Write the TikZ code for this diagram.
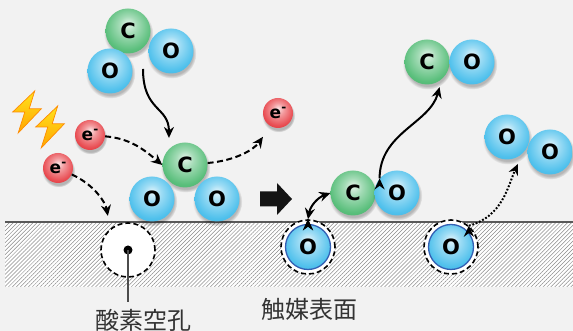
\documentclass[tikz,border=0pt]{standalone}
\usepackage{fontspec}
\setsansfont{DejaVu Sans}
\newfontfamily\jpfont{Noto Sans CJK JP}
\usetikzlibrary{arrows.meta}
\usetikzlibrary{shadows}
\usetikzlibrary{patterns.meta}
\definecolor{bg}{RGB}{242,242,242}
\definecolor{cgreen}{RGB}{88,190,122}
\definecolor{oblue}{RGB}{78,192,236}
\definecolor{ered}{RGB}{232,72,78}
\definecolor{rimblue}{RGB}{52,96,180}
\definecolor{bolty}{RGB}{255,226,30}
\definecolor{bolto}{RGB}{255,165,0}
\colorlet{atomcol}{oblue}
\pgfdeclareradialshading[atomcol]{glossy}{\pgfpoint{0bp}{8bp}}{%
  color(0bp)=(atomcol!15!white); color(10bp)=(atomcol!55!white);
  color(26bp)=(atomcol); color(44bp)=(atomcol!88!black);
  color(52bp)=(atomcol!75!black)}

\begin{document}
\begin{tikzpicture}[x=1pt,y=1pt,>={Stealth[length=11pt,width=10pt]},
    atom/.style={circle,minimum size=45pt,inner sep=0pt,shading=glossy,
      font=\sffamily\bfseries\fontsize{21}{21}\selectfont},
    lift/.style={circular drop shadow={shadow xshift=.5pt,shadow yshift=-2.5pt,
      opacity=.25,fill=black}},
    carbon/.style={atom,lift,/utils/exec=\colorlet{atomcol}{cgreen}},
    oxygen/.style={atom,lift,/utils/exec=\colorlet{atomcol}{oblue}},
    elec/.style={atom,lift,minimum size=30pt,
      font=\sffamily\bfseries\fontsize{17}{17}\selectfont,
      /utils/exec=\colorlet{atomcol}{ered}},
    bound/.style={atom,draw=rimblue,line width=1.3pt,
      /utils/exec=\colorlet{atomcol}{oblue}},
    site/.style={circle,draw,fill=white,dash pattern=on 5pt off 3pt,
      line width=1.6pt,minimum size=54pt,inner sep=0pt},
    caption/.style={font=\jpfont\fontsize{24}{24}\selectfont,
      text=black!80,inner sep=0pt,anchor=north},
    bolt/.style={draw=bolto!85!red,line width=.7pt,top color=bolty,
      bottom color=bolto,line join=miter}]
    \path[use as bounding box,fill=bg] (0,0) rectangle (573,331);

    \path[preaction={fill=white},
          pattern={Lines[angle=45,distance=2.8pt,line width=.5pt]},
          pattern color=black!45] (5,44) rectangle (573,109);
    \draw[line width=2.2pt,black!65] (5,109) -- (573,109);

    \node[site] (vac) at (128,81) {};
    \fill (vac.center) circle (4.5pt);
    \node[site] (s1) at (308,84) {};
    \node[bound] (s1o) at (s1) {O};
    \node[site] (s2) at (451,84) {};
    \node[bound] (s2o) at (s2) {O};

    \node[carbon] (c1) at (128,300) {C};
    \node[oxygen] (o1) at (110,260) {O};
    \node[oxygen] (o2) at (171,280) {O};
    \node[carbon] (c2) at (185,166) {C};
    \node[oxygen] (o3) at (152,132) {O};
    \node[oxygen] (o4) at (217,132) {O};
    \node[carbon] (c3) at (353,138) {C};
    \node[oxygen] (o5) at (397,138) {O};
    \node[carbon] (c4) at (427,269) {C};
    \node[oxygen] (o6) at (472,269) {O};
    \node[oxygen] (o7) at (507,194) {O};
    \node[oxygen] (o8) at (550,179) {O};

    \node[elec] (e1) at (90,196) {e\raisebox{.45em}{\fontsize{12}{12}\selectfont -}};
    \node[elec] (e2) at (58,163) {e\raisebox{.45em}{\fontsize{12}{12}\selectfont -}};
    \node[elec] (e3) at (278,218) {e\raisebox{.45em}{\fontsize{12}{12}\selectfont -}};

    \foreach \x/\y in {27/219,50/204}
      \draw[bolt,shift={(\x,\y)},xscale=1.1,yscale=1.05]
        (7,20) -- (-13,0) -- (-2,0) -- (-8,-20) -- (13,3) -- (2,3) -- cycle;

    \fill[black!92] (260,124.5) -- (277,124.5) -- (277,116) -- (292,132)
      -- (277,148) -- (277,139.5) -- (260,139.5) -- cycle;

    \node[caption] (vacl) at (143,22) {酸素空孔};
    \node[caption] (surfl) at (309,33) {触媒表面};
    \draw[line width=1.3pt,black!70,shorten >=7pt]
      (vac.center) -- (vac.center |- vacl.north);

    \coordinate (drop) at (143,262);
    \draw[->,line width=2pt]
          (drop) edge[out=-90,in=90,looseness=1.3,shorten >=11pt] (c2.135)
          (o5.140) edge[out=90,in=-105,shorten >=8pt] (c4.-50);
    \draw[<->,line width=2pt]
          (s1.north) edge[out=80,in=200] (c3.west);
    \draw[->,line width=2pt,dash pattern=on 6pt off 3.5pt]
          (e1) edge[out=-5,in=140] (c2.west)
          (e2) edge[out=-25,in=100,shorten >=13pt] (vac.130)
          (c2) edge[out=5,in=-125,shorten >=13pt] (e3.-120);
    \draw[->,line width=2pt,dash pattern=on 1.8pt off 1.8pt]
          (s2.50) edge[out=15,in=-115,shorten >=12pt] (o7.-45);
\end{tikzpicture}
\end{document}
